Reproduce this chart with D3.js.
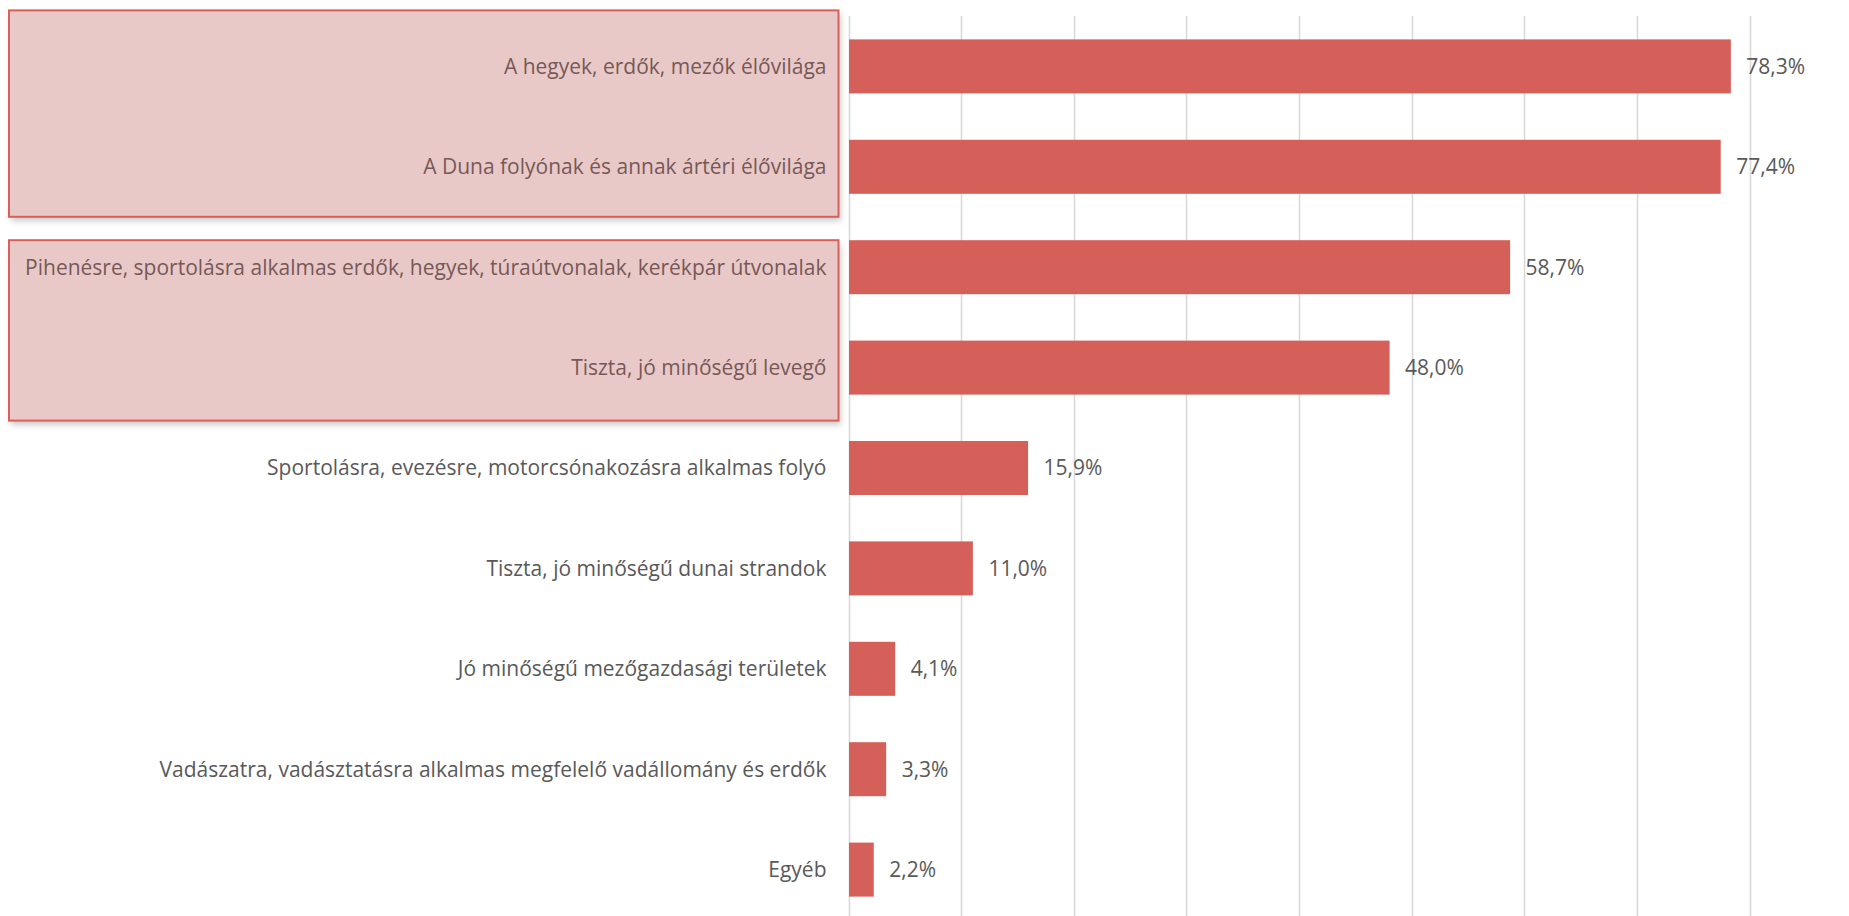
<!DOCTYPE html>
<html>
<head>
<meta charset="utf-8">
<script src="https://cdn.jsdelivr.net/npm/d3@7"></script>
<style>
  body { margin: 0; background: #ffffff; }
  svg text { font-family: "Open Sans", sans-serif; }
</style>
</head>
<body>
<div id="chart"></div>
<script>
// categories, top to bottom
let categories = [
  "A hegyek, erdők, mezők élővilága",
  "A Duna folyónak és annak ártéri élővilága",
  "Pihenésre, sportolásra alkalmas erdők, hegyek, túraútvonalak, kerékpár útvonalak",
  "Tiszta, jó minőségű levegő",
  "Sportolásra, evezésre, motorcsónakozásra alkalmas folyó",
  "Tiszta, jó minőségű dunai strandok",
  "Jó minőségű mezőgazdasági területek",
  "Vadászatra, vadásztatásra alkalmas megfelelő vadállomány és erdők",
  "Egyéb"
];
let values = [78.3, 77.4, 58.7, 48.0, 15.9, 11.0, 4.1, 3.3, 2.2];
let xTicks = [0, 10, 20, 30, 40, 50, 60, 70, 80];
// highlighted groups of categories (first, last index)
let highlights = [[0, 1], [2, 3]];

let width = 1849,
    height = 916;

let svg = d3.select("#chart")
  .append("svg")
    .attr("width", width)
    .attr("height", height);

// drop shadow for the highlight boxes
let defs = svg.append("defs");
defs.append("filter")
    .attr("id", "shadow")
    .attr("x", "-5%").attr("y", "-5%")
    .attr("width", "110%").attr("height", "120%")
  .append("feDropShadow")
    .attr("dx", 2)
    .attr("dy", 4)
    .attr("stdDeviation", 3)
    .attr("flood-color", "#000")
    .attr("flood-opacity", 0.22);

let x = d3.scaleLinear()
  .domain([0, 80])
  .range([848.5, 1749.5]);

let y = d3.scaleBand()
  .domain(categories)
  .range([16.2, 919.8])
  .paddingInner(0.462)
  .paddingOuter(0.231);

// highlight box geometry, from the band scale
let pads = [[29, 23], [0, 26]];
let boxTop = (d, i) => y(categories[d[0]]) - pads[i][0];
let boxHeight = (d, i) => y(categories[d[1]]) + y.bandwidth() + pads[i][1] - boxTop(d, i);

// shadow layer of the boxes (white, under the labels)
svg.append("g")
  .selectAll("rect")
  .data(highlights)
  .join("rect")
    .attr("x", 9)
    .attr("y", boxTop)
    .attr("width", x(0) - 10 - 9)
    .attr("height", boxHeight)
    .attr("filter", "url(#shadow)")
    .style("fill", "#ffffff");

// gridlines (the 0 line doubles as the axis line)
svg.append("g")
  .selectAll("line")
  .data(xTicks)
  .join("line")
    .attr("x1", d => Math.round(x(d)) + 0.5)
    .attr("x2", d => Math.round(x(d)) + 0.5)
    .attr("y1", 16)
    .attr("y2", height)
    .style("stroke", "#d9d9d9")
    .style("stroke-width", 1.6);

// bars
svg.append("g")
  .selectAll("rect")
  .data(values)
  .join("rect")
    .attr("x", x(0) + 0.5)
    .attr("y", (d, i) => y(categories[i]))
    .attr("width", d => x(d) - x(0))
    .attr("height", y.bandwidth())
    .style("fill", "#d5605a");

// value labels
svg.append("g")
  .selectAll("text")
  .data(values)
  .join("text")
    .attr("x", d => x(d) + 16)
    .attr("y", (d, i) => y(categories[i]) + y.bandwidth() / 2)
    .attr("dy", "0.35em")
    .style("font-size", "21px")
    .style("fill", "#595959")
    .text(d => d.toFixed(1).replace(".", ",") + "%");

// category labels
svg.append("g")
  .selectAll("text")
  .data(categories)
  .join("text")
    .attr("text-anchor", "end")
    .attr("x", x(0) - 22)
    .attr("y", d => y(d) + y.bandwidth() / 2)
    .attr("dy", "0.35em")
    .style("font-size", "21px")
    .style("fill", "#595959")
    .text(d => d);

// translucent highlight boxes drawn over the labels
svg.append("g")
  .selectAll("rect")
  .data(highlights)
  .join("rect")
    .attr("x", 9)
    .attr("y", boxTop)
    .attr("width", x(0) - 10 - 9)
    .attr("height", boxHeight)
    .style("fill", "rgba(184, 86, 83, 0.32)")
    .style("stroke", "#d9605a")
    .style("stroke-width", 2);
</script>
</body>
</html>
